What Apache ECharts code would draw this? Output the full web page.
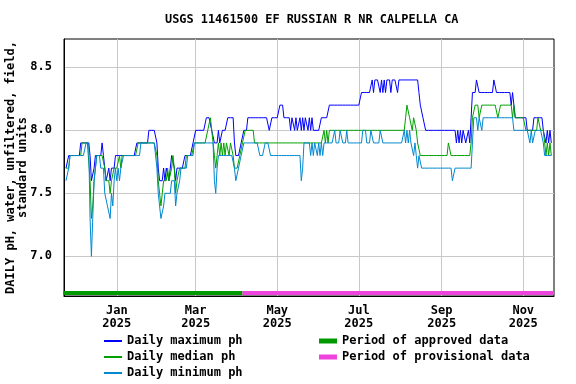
<!DOCTYPE html>
<html><head><meta charset="utf-8">
<script src="https://cdn.jsdelivr.net/npm/echarts@6/dist/echarts.min.js"></script>
<style>html,body{margin:0;padding:0;background:#fff}#c{width:576px;height:384px}</style>
</head><body><div id="c"></div>
<script>
// first daily value: 2024-11-24, one value per day
const firstDay = [2024, 11, 24];
const dailyMax = [
7.7,7.7,7.8,7.8,7.8,7.8,7.8,7.8,7.8,7.8,
7.8,7.9,7.9,7.9,7.9,7.9,7.9,7.9,7.8,7.6,
7.6,7.7,7.8,7.8,7.8,7.8,7.8,7.9,7.8,7.7,
7.6,7.6,7.7,7.6,7.7,7.7,7.7,7.8,7.8,7.8,
7.8,7.8,7.8,7.8,7.8,7.8,7.8,7.8,7.8,7.8,
7.8,7.8,7.8,7.9,7.9,7.9,7.9,7.9,7.9,7.9,
7.9,7.9,8.0,8.0,8.0,8.0,8.0,8.0,7.9,7.7,
7.6,7.6,7.6,7.7,7.6,7.7,7.7,7.6,7.7,7.8,
7.8,7.7,7.6,7.7,7.7,7.7,7.7,7.7,7.7,7.8,
7.8,7.8,7.8,7.8,7.8,7.9,7.9,8.0,8.0,8.0,
8.0,8.0,8.0,8.0,8.0,8.1,8.1,8.1,8.1,8.0,
8.0,7.9,7.9,7.9,8.0,7.9,7.9,8.0,8.0,8.0,
8.0,8.1,8.1,8.1,8.1,8.1,7.9,7.8,7.8,7.8,
7.8,7.9,7.9,8.0,8.0,8.0,8.1,8.1,8.1,8.1,
8.1,8.1,8.1,8.1,8.1,8.1,8.1,8.1,8.1,8.1,
8.1,8.1,8.0,8.0,8.1,8.1,8.1,8.1,8.1,8.1,
8.2,8.2,8.2,8.1,8.1,8.1,8.1,8.1,8.0,8.1,
8.1,8.0,8.1,8.0,8.0,8.1,8.0,8.1,8.0,8.1,
8.1,8.0,8.1,8.0,8.1,8.0,8.0,8.0,8.0,8.0,
8.0,8.1,8.1,8.1,8.1,8.1,8.1,8.2,8.2,8.2,
8.2,8.2,8.2,8.2,8.2,8.2,8.2,8.2,8.2,8.2,
8.2,8.2,8.2,8.2,8.2,8.2,8.2,8.2,8.2,8.2,
8.2,8.3,8.3,8.3,8.3,8.3,8.3,8.3,8.3,8.4,
8.3,8.4,8.4,8.4,8.4,8.3,8.4,8.3,8.4,8.3,
8.4,8.4,8.4,8.3,8.4,8.4,8.4,8.4,8.3,8.4,
8.4,8.4,8.4,8.4,8.4,8.4,8.4,8.4,8.4,8.4,
8.4,8.4,8.4,8.4,8.3,8.2,8.2,8.1,8.1,8.0,
8.0,8.0,8.0,8.0,8.0,8.0,8.0,8.0,8.0,8.0,
8.0,8.0,8.0,8.0,8.0,8.0,8.0,8.0,8.0,8.0,
8.0,8.0,7.9,8.0,7.9,8.0,7.9,8.0,8.0,7.9,
7.9,8.0,7.9,8.1,8.3,8.3,8.3,8.4,8.4,8.3,
8.3,8.3,8.3,8.3,8.3,8.3,8.3,8.3,8.3,8.3,
8.4,8.4,8.3,8.3,8.3,8.3,8.3,8.3,8.3,8.3,
8.3,8.3,8.3,8.2,8.3,8.2,8.1,8.1,8.1,8.1,
8.1,8.1,8.1,8.1,8.1,8.0,8.0,8.0,8.0,8.0,
8.1,8.1,8.1,8.1,8.1,8.1,8.1,8.0,8.0,7.9,
8.0,7.9,8.0,7.9];
const dailyMedian = [
7.7,7.7,7.7,7.8,7.8,7.8,7.8,7.8,7.8,7.8,
7.8,7.8,7.9,7.9,7.9,7.9,7.9,7.9,7.6,7.3,
7.4,7.6,7.7,7.8,7.8,7.8,7.8,7.8,7.8,7.7,
7.6,7.6,7.6,7.5,7.6,7.6,7.7,7.7,7.7,7.7,
7.8,7.7,7.8,7.8,7.8,7.8,7.8,7.8,7.8,7.8,
7.8,7.8,7.8,7.8,7.9,7.9,7.9,7.9,7.9,7.9,
7.9,7.9,7.9,7.9,7.9,7.9,7.9,7.9,7.8,7.6,
7.5,7.4,7.5,7.6,7.6,7.6,7.7,7.6,7.6,7.7,
7.8,7.7,7.5,7.6,7.6,7.7,7.7,7.7,7.7,7.7,
7.8,7.8,7.8,7.8,7.8,7.8,7.9,7.9,7.9,7.9,
7.9,7.9,7.9,7.9,7.9,7.9,8.0,8.0,8.1,8.0,
8.0,7.8,7.7,7.8,7.9,7.8,7.9,7.8,7.9,7.8,
7.9,7.9,7.8,7.9,7.9,7.8,7.7,7.7,7.7,7.7,
7.8,7.8,7.9,7.9,8.0,8.0,8.0,8.0,8.0,8.0,
8.0,7.9,7.9,7.9,7.9,7.9,7.9,7.9,7.9,7.9,
7.9,7.9,7.9,7.9,7.9,7.9,7.9,7.9,7.9,7.9,
7.9,7.9,7.9,7.9,7.9,7.9,7.9,7.9,7.9,7.9,
7.9,7.9,7.9,7.9,7.9,7.9,7.9,7.9,7.9,7.9,
7.9,7.9,7.9,7.9,7.9,7.9,7.9,7.9,7.9,7.9,
7.9,7.9,7.9,8.0,7.9,8.0,7.9,8.0,8.0,8.0,
8.0,8.0,8.0,8.0,8.0,8.0,8.0,8.0,8.0,8.0,
8.0,8.0,8.0,8.0,8.0,8.0,8.0,8.0,8.0,8.0,
8.0,8.0,8.0,8.0,8.0,8.0,8.0,8.0,8.0,8.0,
8.0,8.0,8.0,8.0,8.0,8.0,8.0,8.0,8.0,8.0,
8.0,8.0,8.0,8.0,8.0,8.0,8.0,8.0,8.0,8.0,
8.0,8.0,8.0,8.0,8.1,8.2,8.2,8.1,8.1,8.0,
8.1,8.1,8.0,7.9,7.9,7.8,7.8,7.8,7.8,7.8,
7.8,7.8,7.8,7.8,7.8,7.8,7.8,7.8,7.8,7.8,
7.8,7.8,7.8,7.8,7.8,7.8,7.9,7.9,7.8,7.8,
7.8,7.8,7.8,7.8,7.8,7.8,7.8,7.8,7.8,7.8,
7.8,7.8,7.8,7.9,8.1,8.1,8.2,8.2,8.2,8.1,
8.1,8.2,8.2,8.2,8.2,8.2,8.2,8.2,8.2,8.2,
8.2,8.2,8.2,8.1,8.1,8.2,8.2,8.2,8.2,8.2,
8.2,8.2,8.2,8.2,8.1,8.2,8.1,8.1,8.1,8.1,
8.1,8.1,8.1,8.1,8.0,8.0,8.0,8.0,8.0,8.0,
8.0,8.0,8.0,8.1,8.1,8.0,8.0,8.0,7.9,7.8,
7.9,7.8,7.9,7.8];
const dailyMin = [
7.6,7.6,7.7,7.8,7.8,7.8,7.8,7.8,7.8,7.8,
7.8,7.8,7.8,7.8,7.8,7.9,7.9,7.9,7.3,7.0,
7.3,7.6,7.7,7.8,7.8,7.8,7.7,7.7,7.7,7.5,
7.5,7.4,7.4,7.3,7.5,7.4,7.6,7.7,7.6,7.7,
7.6,7.7,7.7,7.8,7.8,7.8,7.8,7.8,7.8,7.8,
7.8,7.8,7.8,7.8,7.8,7.8,7.9,7.9,7.9,7.9,
7.9,7.9,7.9,7.9,7.9,7.9,7.9,7.9,7.7,7.5,
7.4,7.3,7.3,7.4,7.5,7.5,7.5,7.5,7.5,7.6,
7.6,7.6,7.4,7.5,7.5,7.6,7.7,7.7,7.7,7.7,
7.7,7.8,7.8,7.8,7.8,7.8,7.9,7.9,7.9,7.9,
7.9,7.9,7.9,7.9,7.9,7.9,7.9,7.9,7.9,7.9,
7.9,7.6,7.5,7.7,7.8,7.8,7.8,7.8,7.8,7.8,
7.8,7.8,7.8,7.8,7.8,7.8,7.7,7.6,7.6,7.7,
7.7,7.8,7.8,7.9,7.9,7.9,7.9,7.9,7.9,7.9,
7.9,7.9,7.9,7.9,7.9,7.8,7.8,7.8,7.8,7.9,
7.9,7.9,7.9,7.8,7.8,7.8,7.8,7.8,7.8,7.8,
7.8,7.8,7.8,7.8,7.8,7.8,7.8,7.8,7.8,7.8,
7.8,7.8,7.8,7.8,7.8,7.8,7.6,7.7,7.9,7.9,
7.9,7.9,7.9,7.8,7.9,7.8,7.9,7.9,7.8,7.9,
7.8,7.9,7.8,7.9,7.9,7.9,7.9,7.9,7.9,7.9,
7.9,8.0,7.9,7.9,7.9,8.0,8.0,7.9,7.9,7.9,
8.0,7.9,7.9,7.9,7.9,7.9,7.9,7.9,7.9,7.9,
7.9,7.9,8.0,8.0,8.0,7.9,7.9,7.9,8.0,8.0,
7.9,7.9,7.9,7.9,7.9,8.0,8.0,7.9,7.9,7.9,
7.9,7.9,7.9,7.9,7.9,7.9,7.9,7.9,7.9,7.9,
7.9,7.9,7.9,8.0,7.9,8.0,7.9,8.0,7.9,7.9,
7.8,7.9,7.8,7.7,7.8,7.8,7.7,7.7,7.7,7.7,
7.7,7.7,7.7,7.7,7.7,7.7,7.7,7.7,7.7,7.7,
7.7,7.7,7.7,7.7,7.7,7.7,7.7,7.7,7.7,7.6,
7.6,7.7,7.7,7.7,7.7,7.7,7.7,7.7,7.7,7.7,
7.7,7.7,7.7,7.7,7.9,8.1,8.1,8.1,8.0,8.1,
8.1,8.0,8.1,8.1,8.1,8.1,8.1,8.1,8.1,8.1,
8.1,8.1,8.1,8.1,8.1,8.1,8.1,8.1,8.1,8.1,
8.1,8.1,8.1,8.1,8.1,8.0,8.0,8.0,8.0,8.0,
8.0,8.0,8.0,8.0,8.0,8.0,8.0,7.9,8.0,7.9,
7.9,8.0,8.0,8.0,8.0,8.0,8.0,7.9,7.8,7.8,
7.8,7.8,7.8,7.8];
const xTickDates = ['2025-01-01','2025-03-01','2025-05-01','2025-07-01','2025-09-01','2025-11-01'];
const xTickLabels = ['Jan\n2025','Mar\n2025','May\n2025','Jul\n2025','Sep\n2025','Nov\n2025'];
const yTicks = [7.0, 7.5, 8.0, 8.5];
const approvedPeriod = ['2024-11-22', '2025-04-05'];
const provisionalPeriod = ['2025-04-05', '2025-11-24'];
const xRange = ['2024-11-22T12', '2025-11-24'];
const yRange = [6.685, 8.725];
const titleText = 'USGS 11461500 EF RUSSIAN R NR CALPELLA CA';
const yName = 'DAILY pH, water, unfiltered, field,\nstandard units';

function ts(s) {
  const [d, h] = s.split('T');
  const p = d.split('-').map(Number);
  return new Date(p[0], p[1] - 1, p[2], h ? Number(h) : 0).getTime();
}
const dates = dailyMax.map((_, i) => new Date(firstDay[0], firstDay[1] - 1, firstDay[2] + i).getTime());
const pair = arr => dates.map((t, i) => [t, arr[i]]);
const tickTs = xTickDates.map(ts);
const barY = yRange[0] + 0.024;

const FONT = 'DejaVu Sans Mono';
const txt = { fontFamily: FONT, fontWeight: 'bold', fontSize: 12, color: '#000' };

const chart = echarts.init(document.getElementById('c'), null, { renderer: 'canvas' });
chart.setOption({
  animation: false,
  backgroundColor: '#fff',
  title: { text: titleText, left: 165, top: 14, padding: 0, textStyle: Object.assign({}, txt, { fontSize: 11.9 }) },
  grid: { left: 64, right: 22, top: 39, bottom: 88, show: true, borderColor: '#000', borderWidth: 1, backgroundColor: 'transparent', containLabel: false, outerBoundsMode: 'none' },
  xAxis: {
    type: 'value', min: ts(xRange[0]), max: ts(xRange[1]),
    axisLine: { show: true, lineStyle: { color: '#000', width: 1 } },
    axisTick: { show: false, customValues: tickTs },
    splitLine: { show: true, lineStyle: { color: '#c8c8c8', width: 1 } },
    axisLabel: Object.assign({}, txt, {
      customValues: tickTs, margin: 8, lineHeight: 13, hideOverlap: false,
      formatter: v => { let k = 0, best = Infinity; tickTs.forEach((t, j) => { const d = Math.abs(t - v); if (d < best) { best = d; k = j; } }); return xTickLabels[k]; }
    })
  },
  yAxis: {
    type: 'value', min: yRange[0], max: yRange[1],
    name: yName, nameLocation: 'middle', nameRotate: 90, nameGap: 35, nameMoveOverlap: false,
    nameTextStyle: Object.assign({}, txt, { lineHeight: 12 }),
    axisLine: { show: true, lineStyle: { color: '#000', width: 1 } },
    axisTick: { show: false, customValues: yTicks },
    splitLine: { show: true, lineStyle: { color: '#c8c8c8', width: 1 } },
    axisLabel: Object.assign({}, txt, { customValues: yTicks, margin: 12, formatter: v => Number(v).toFixed(1) })
  },
  legend: [
    { data: [{ name: 'Daily maximum ph', icon: 'rect' }, { name: 'Daily median ph', icon: 'rect' }, { name: 'Daily minimum ph', icon: 'rect' }],
      orient: 'vertical', left: 104, top: 334, itemWidth: 18, itemHeight: 2, itemGap: 2, padding: 0,
      selectedMode: false, textStyle: Object.assign({}, txt, { lineHeight: 14 }) },
    { data: [{ name: 'Period of approved data', icon: 'rect' }, { name: 'Period of provisional data', icon: 'rect' }],
      orient: 'vertical', left: 319, top: 334, itemWidth: 18, itemHeight: 5, itemGap: 2, padding: 0,
      selectedMode: false, textStyle: Object.assign({}, txt, { lineHeight: 14 }) }
  ],
  series: [
    { name: 'Daily maximum ph', type: 'line', data: pair(dailyMax), color: '#0000ff', showSymbol: false, symbol: 'none', lineStyle: { width: 1 }, z: 2 },
    { name: 'Daily median ph', type: 'line', data: pair(dailyMedian), color: '#00a000', showSymbol: false, symbol: 'none', lineStyle: { width: 1 }, z: 3 },
    { name: 'Daily minimum ph', type: 'line', data: pair(dailyMin), color: '#0088d0', showSymbol: false, symbol: 'none', lineStyle: { width: 1 }, z: 4 },
    { name: 'Period of approved data', type: 'line', data: approvedPeriod.map(s => [ts(s), barY]), color: '#009900', showSymbol: false, symbol: 'none', lineStyle: { width: 4 }, z: 5 },
    { name: 'Period of provisional data', type: 'line', data: provisionalPeriod.map(s => [ts(s), barY]), color: '#ee44dd', showSymbol: false, symbol: 'none', lineStyle: { width: 4 }, z: 5 }
  ]
});
</script></body></html>
